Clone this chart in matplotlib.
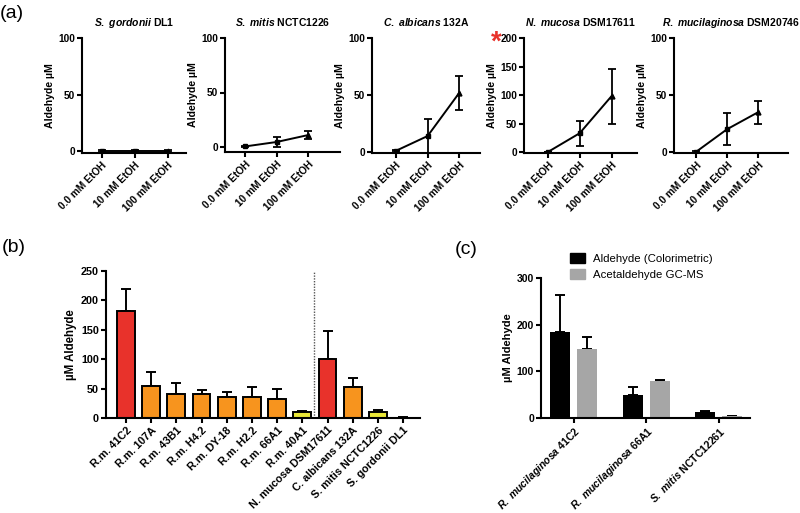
import matplotlib
matplotlib.use("Agg")
import matplotlib.pyplot as plt
import numpy as np
from matplotlib.patches import Patch

plt.rcParams['font.family'] = ['Liberation Sans', 'DejaVu Sans']
plt.rcParams['font.weight'] = 'bold'
plt.rcParams['mathtext.fontset'] = 'custom'
plt.rcParams['mathtext.it'] = 'Liberation Sans:italic:bold'
plt.rcParams['mathtext.sf'] = 'Liberation Sans:italic'
plt.rcParams['mathtext.rm'] = 'Liberation Sans:bold'

# ---------------- data ----------------
a_categories = ['0.0 mM EtOH', '10 mM EtOH', '100 mM EtOH']
a_titles = [r'$\it{S.\ gordonii}$ DL1', r'$\it{S.\ mitis}$ NCTC1226',
            r'$\it{C.\ albicans}$ 132A', r'$\it{N.\ mucosa}$ DSM17611',
            r'$\it{R.\ mucilaginosa}$ DSM20746']
gordonii_vals = [0.0, 0.0, 0.0]
gordonii_err = [0.5, 0.5, 0.5]
mitis_vals = [0.5, 4.6, 11.0]
mitis_err = [0.5, 4.5, 4.0]
albicans_vals = [1.0, 14.0, 52.0]
albicans_err = [0.5, 15.0, 15.0]
mucosa_vals = [0.0, 33.0, 98.0]
mucosa_err = [0.5, 22.0, 48.0]
mucilaginosa_vals = [0.0, 20.0, 35.0]
mucilaginosa_err = [0.5, 14.0, 10.0]
a_ymax = [100, 100, 100, 200, 100]
a_yticks = [[0, 50, 100], [0, 50, 100], [0, 50, 100], [0, 50, 100, 150, 200], [0, 50, 100]]

b_categories = ['R.m. 41C2', 'R.m. 107A', 'R.m. 43B1', 'R.m. H4.2', 'R.m. DY-18',
                'R.m. H2.2', 'R.m. 66A1', 'R.m. 40A1', 'N. mucosa DSM17611',
                'C. albicans 132A', 'S. mitis NCTC1226', 'S. gordonii DL1']
b_values = [182, 54, 40, 40, 36, 35, 32, 10, 100, 53, 11, 0.5]
b_err = [37, 24, 20, 7, 9, 17, 17, 2, 48, 15, 3, 0.5]
b_groups = ['high', 'mid', 'mid', 'mid', 'mid', 'mid', 'mid', 'low',
            'high', 'mid', 'low', 'low']

c_categories = [r'$\mathsf{R.\ mucilaginosa}$ 41C2', r'$\mathsf{R.\ mucilaginosa}$ 66A1',
                r'$\mathsf{S.\ mitis}$ NCTC12261']
c_colorimetric = [185, 50, 13]
c_colorimetric_err = [78, 17, 2]
c_gcms = [148, 80, 4]
c_gcms_err = [25, 1, 1]
c_series = ['Aldehyde (Colorimetric)', 'Acetaldehyde GC-MS']

group_colors = {'high': '#e8322b', 'mid': '#f7941e', 'low': '#e9e637'}

W, H = 800, 513
fig = plt.figure(figsize=(8, 5.13), dpi=100)


def px_axes(left, top, right, bottom):
    return fig.add_axes([left / W, 1 - bottom / H, (right - left) / W, (bottom - top) / H])


def style(ax, fs=7):
    for s in ['top', 'right']:
        ax.spines[s].set_visible(False)
    for s in ['left', 'bottom']:
        ax.spines[s].set_linewidth(1.5)
    ax.tick_params(width=1.5, length=3.5, labelsize=fs, pad=1.5)
    for lab in ax.get_yticklabels():
        lab.set_fontweight('bold')


# ---------------- panel (a) ----------------
a_vals = [gordonii_vals, mitis_vals, albicans_vals, mucosa_vals, mucilaginosa_vals]
a_errs = [gordonii_err, mitis_err, albicans_err, mucosa_err, mucilaginosa_err]
a_boxes = [(82, 186, -0.6, 2.55, 153), (225, 340, -0.63, 3.0, 152),
           (372, 480, -0.75, 2.65, 153), (524, 637, -0.75, 2.8, 153),
           (674, 788, -0.7, 2.95, 153)]
a_zero = [151, 147, 152, 152, 152]
x = np.arange(len(a_categories))
for i in range(5):
    l, r, x0, x1, bot = a_boxes[i]
    ax = px_axes(l, 38, r, bot)
    ymax = a_ymax[i]
    z = a_zero[i]
    ymin = -(bot - z) / (z - 38) * ymax
    ax.set_ylim(ymin, ymax)
    ax.set_xlim(x0, x1)
    ax.plot(x, a_vals[i], color='black', lw=1.4, zorder=3)
    ax.errorbar(x, a_vals[i], yerr=a_errs[i], fmt='none', ecolor='black',
                elinewidth=1.3, capsize=3, capthick=1.3, zorder=3)
    ax.plot(x[:2], a_vals[i][:2], 's', color='black', ms=3.5, zorder=4)
    ax.plot(x[2:], a_vals[i][2:], '^', color='black', ms=3.5, zorder=4)
    ax.set_yticks(a_yticks[i])
    ax.set_xticks(x)
    ax.set_xticklabels(a_categories, rotation=45, ha='right', rotation_mode='anchor',
                       fontweight='bold')
    style(ax, fs=7.3)
    ax.set_ylabel('Aldehyde µM', fontsize=7.6, fontweight='bold', labelpad=2)
    ax.set_title(a_titles[i], fontsize=7.5, fontweight='bold', pad=9)

fig.text(496 / W, 1 - 43 / H, '*', color='#e8322b', fontsize=20, fontweight='bold',
         ha='center', va='center')
fig.text(0 / W, 1 - 13 / H, '(a)', fontsize=14, fontweight='normal', ha='left', va='center')

# ---------------- panel (b) ----------------
axb = px_axes(106, 271, 420, 418)
xb = np.arange(len(b_categories))
bcolors = [group_colors[g] for g in b_groups]
axb.bar(xb, b_values, width=0.7, color=bcolors, edgecolor='black', linewidth=1.4, zorder=2)
axb.errorbar(xb, b_values, yerr=[np.zeros(len(b_err)), b_err], fmt='none', ecolor='black',
             elinewidth=1.4, capsize=3.5, capthick=1.4, zorder=1)
axb.set_ylim(0, 250)
axb.set_xlim(-0.79, 11.67)
axb.set_yticks([0, 50, 100, 150, 200, 250])
axb.set_xticks(xb)
axb.set_xticklabels(b_categories, rotation=45, ha='right', rotation_mode='anchor',
                    fontweight='bold')
style(axb, fs=7.8)
axb.axvline(7.46, ymin=0, ymax=0.99, color='#555555', lw=1.0, ls=(0, (1, 1)))
axb.set_ylabel('µM Aldehyde', fontsize=8.3, fontweight='bold', labelpad=3)
fig.text(2 / W, 1 - 248 / H, '(b)', fontsize=14, fontweight='normal', ha='left', va='center')

# ---------------- panel (c) ----------------
axc = px_axes(541, 278, 750, 418)
xc = np.arange(len(c_categories))
bw = 0.276
off = 0.186
axc.bar(xc - off, c_colorimetric, width=bw, color='black', zorder=2, label=c_series[0])
axc.bar(xc + off, c_gcms, width=bw, color='#a6a6a6', zorder=2, label=c_series[1])
axc.errorbar(xc - off, c_colorimetric, yerr=[np.zeros(3), c_colorimetric_err], fmt='none',
             ecolor='black', elinewidth=1.4, capsize=3.5, capthick=1.4, zorder=1)
axc.errorbar(xc + off, c_gcms, yerr=[np.zeros(3), c_gcms_err], fmt='none',
             ecolor='black', elinewidth=1.4, capsize=3.5, capthick=1.4, zorder=1)
axc.set_ylim(0, 300)
axc.set_xlim(-0.45, 2.43)
axc.set_yticks([0, 100, 200, 300])
axc.set_xticks(xc)
axc.set_xticklabels(c_categories, rotation=45, ha='right', rotation_mode='anchor',
                    fontweight='bold')
style(axc, fs=7.5)
axc.set_ylabel('µM Aldehyde', fontsize=8, fontweight='bold', labelpad=3)
handles = [Patch(color='black'), Patch(color='#a6a6a6')]
leg = fig.legend(handles, c_series, loc='upper left', bbox_to_anchor=(560 / W, 1 - 243 / H),
                 frameon=False, handlelength=1.3, handleheight=1.0,
                 handletextpad=0.7, labelspacing=0.4, prop={'weight': 'normal', 'size': 8.2})
fig.text(455 / W, 1 - 250 / H, '(c)', fontsize=14, fontweight='normal', ha='left', va='center')

fig.savefig('out.png', dpi=100)
